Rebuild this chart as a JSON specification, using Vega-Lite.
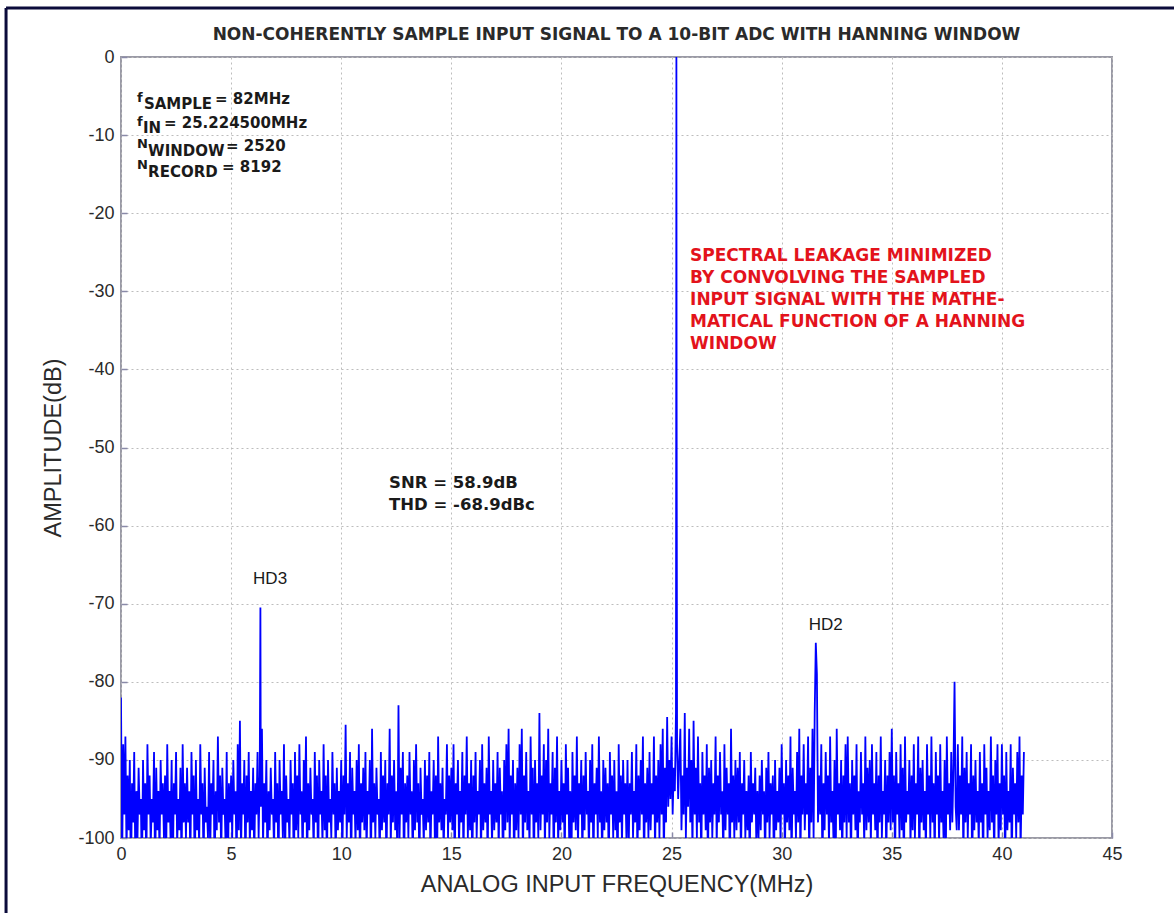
{
  "$schema": "https://vega.github.io/schema/vega-lite/v6.json",
  "width": 991,
  "height": 781,
  "autosize": "none",
  "padding": {"left": 121, "top": 57, "right": 62, "bottom": 75},
  "background": "white",
  "config": {
    "view": {"stroke": "#9a9aa6", "strokeWidth": 2},
    "font": "Liberation Sans"
  },
  "title": {
    "text": "NON-COHERENTLY SAMPLE INPUT SIGNAL TO A 10-BIT ADC WITH HANNING WINDOW",
    "font": "DejaVu Sans",
    "fontSize": 17,
    "fontWeight": "bold",
    "color": "#2a2a2a",
    "offset": -37,
    "anchor": "middle"
  },
  "datasets": {
    "spectrum": [
      {"f":0.00,"a":-82},{"f":0.05,"a":-104},{"f":0.10,"a":-88},{"f":0.15,"a":-97},{"f":0.20,"a":-87},{"f":0.25,"a":-102},{"f":0.30,"a":-92},{"f":0.35,"a":-99},{"f":0.40,"a":-90},{"f":0.45,"a":-106},{"f":0.50,"a":-93},{"f":0.55,"a":-98},{"f":0.60,"a":-89},{"f":0.65,"a":-103},{"f":0.70,"a":-94},{"f":0.75,"a":-100},{"f":0.80,"a":-91},{"f":0.85,"a":-97},{"f":0.90,"a":-95},{"f":0.95,"a":-105},
      {"f":1.00,"a":-90},{"f":1.05,"a":-99},{"f":1.10,"a":-93},{"f":1.15,"a":-104},{"f":1.20,"a":-88},{"f":1.25,"a":-97},{"f":1.30,"a":-92},{"f":1.35,"a":-101},{"f":1.40,"a":-95},{"f":1.45,"a":-98},{"f":1.50,"a":-89},{"f":1.55,"a":-106},{"f":1.60,"a":-91},{"f":1.65,"a":-99},{"f":1.70,"a":-94},{"f":1.75,"a":-102},{"f":1.80,"a":-90},{"f":1.85,"a":-97},{"f":1.90,"a":-93},{"f":1.95,"a":-100},
      {"f":2.00,"a":-92},{"f":2.05,"a":-103},{"f":2.10,"a":-88},{"f":2.15,"a":-98},{"f":2.20,"a":-94},{"f":2.25,"a":-100},{"f":2.30,"a":-90},{"f":2.35,"a":-105},{"f":2.40,"a":-93},{"f":2.45,"a":-97},{"f":2.50,"a":-89},{"f":2.55,"a":-101},{"f":2.60,"a":-95},{"f":2.65,"a":-99},{"f":2.70,"a":-91},{"f":2.75,"a":-104},{"f":2.80,"a":-88},{"f":2.85,"a":-98},{"f":2.90,"a":-93},{"f":2.95,"a":-100},
      {"f":3.00,"a":-91},{"f":3.05,"a":-98},{"f":3.10,"a":-94},{"f":3.15,"a":-103},{"f":3.20,"a":-89},{"f":3.25,"a":-97},{"f":3.30,"a":-92},{"f":3.35,"a":-106},{"f":3.40,"a":-90},{"f":3.45,"a":-99},{"f":3.50,"a":-95},{"f":3.55,"a":-101},{"f":3.60,"a":-88},{"f":3.65,"a":-97},{"f":3.70,"a":-93},{"f":3.75,"a":-104},{"f":3.80,"a":-91},{"f":3.85,"a":-98},{"f":3.90,"a":-96},{"f":3.95,"a":-100},
      {"f":4.00,"a":-89},{"f":4.05,"a":-102},{"f":4.10,"a":-93},{"f":4.15,"a":-97},{"f":4.20,"a":-90},{"f":4.25,"a":-105},{"f":4.30,"a":-94},{"f":4.35,"a":-99},{"f":4.40,"a":-87},{"f":4.45,"a":-98},{"f":4.50,"a":-92},{"f":4.55,"a":-103},{"f":4.60,"a":-91},{"f":4.65,"a":-97},{"f":4.70,"a":-95},{"f":4.75,"a":-101},{"f":4.80,"a":-89},{"f":4.85,"a":-106},{"f":4.90,"a":-93},{"f":4.95,"a":-98},
      {"f":5.00,"a":-92},{"f":5.05,"a":-100},{"f":5.10,"a":-90},{"f":5.15,"a":-97},{"f":5.20,"a":-94},{"f":5.25,"a":-104},{"f":5.30,"a":-88},{"f":5.35,"a":-99},{"f":5.40,"a":-85},{"f":5.45,"a":-102},{"f":5.50,"a":-93},{"f":5.55,"a":-97},{"f":5.60,"a":-90},{"f":5.65,"a":-105},{"f":5.70,"a":-92},{"f":5.75,"a":-98},{"f":5.80,"a":-89},{"f":5.85,"a":-101},{"f":5.90,"a":-94},{"f":5.95,"a":-99},
      {"f":6.00,"a":-91},{"f":6.05,"a":-103},{"f":6.10,"a":-93},{"f":6.15,"a":-97},{"f":6.20,"a":-89},{"f":6.25,"a":-100},{"f":6.30,"a":-92},{"f":6.33,"a":-70.5},{"f":6.35,"a":-96},{"f":6.40,"a":-86},{"f":6.45,"a":-101},{"f":6.50,"a":-93},{"f":6.55,"a":-98},{"f":6.60,"a":-90},{"f":6.65,"a":-104},{"f":6.70,"a":-94},{"f":6.75,"a":-99},{"f":6.80,"a":-91},{"f":6.85,"a":-97},{"f":6.90,"a":-95},{"f":6.95,"a":-102},
      {"f":7.00,"a":-89},{"f":7.05,"a":-98},{"f":7.10,"a":-93},{"f":7.15,"a":-105},{"f":7.20,"a":-90},{"f":7.25,"a":-97},{"f":7.30,"a":-94},{"f":7.35,"a":-100},{"f":7.40,"a":-88},{"f":7.45,"a":-103},{"f":7.50,"a":-92},{"f":7.55,"a":-98},{"f":7.60,"a":-95},{"f":7.65,"a":-101},{"f":7.70,"a":-90},{"f":7.75,"a":-97},{"f":7.80,"a":-93},{"f":7.85,"a":-106},{"f":7.90,"a":-89},{"f":7.95,"a":-99},
      {"f":8.00,"a":-92},{"f":8.05,"a":-100},{"f":8.10,"a":-88},{"f":8.15,"a":-97},{"f":8.20,"a":-94},{"f":8.25,"a":-103},{"f":8.30,"a":-90},{"f":8.35,"a":-98},{"f":8.40,"a":-87},{"f":8.45,"a":-104},{"f":8.50,"a":-93},{"f":8.55,"a":-99},{"f":8.60,"a":-91},{"f":8.65,"a":-97},{"f":8.70,"a":-95},{"f":8.75,"a":-102},{"f":8.80,"a":-89},{"f":8.85,"a":-98},{"f":8.90,"a":-92},{"f":8.95,"a":-105},
      {"f":9.00,"a":-90},{"f":9.05,"a":-97},{"f":9.10,"a":-94},{"f":9.15,"a":-101},{"f":9.20,"a":-88},{"f":9.25,"a":-99},{"f":9.30,"a":-92},{"f":9.35,"a":-104},{"f":9.40,"a":-90},{"f":9.45,"a":-98},{"f":9.50,"a":-95},{"f":9.55,"a":-100},{"f":9.60,"a":-89},{"f":9.65,"a":-97},{"f":9.70,"a":-93},{"f":9.75,"a":-103},{"f":9.80,"a":-91},{"f":9.85,"a":-99},{"f":9.90,"a":-94},{"f":9.95,"a":-98},
      {"f":10.00,"a":-90},{"f":10.05,"a":-103},{"f":10.10,"a":-92},{"f":10.15,"a":-97},{"f":10.20,"a":-85.5},{"f":10.25,"a":-100},{"f":10.30,"a":-93},{"f":10.35,"a":-98},{"f":10.40,"a":-89},{"f":10.45,"a":-105},{"f":10.50,"a":-91},{"f":10.55,"a":-97},{"f":10.60,"a":-94},{"f":10.65,"a":-101},{"f":10.70,"a":-90},{"f":10.75,"a":-99},{"f":10.80,"a":-88},{"f":10.85,"a":-104},{"f":10.90,"a":-93},{"f":10.95,"a":-98},
      {"f":11.00,"a":-91},{"f":11.05,"a":-99},{"f":11.10,"a":-89},{"f":11.15,"a":-102},{"f":11.20,"a":-94},{"f":11.25,"a":-97},{"f":11.30,"a":-90},{"f":11.35,"a":-105},{"f":11.40,"a":-86},{"f":11.45,"a":-98},{"f":11.50,"a":-93},{"f":11.55,"a":-100},{"f":11.60,"a":-91},{"f":11.65,"a":-97},{"f":11.70,"a":-95},{"f":11.75,"a":-103},{"f":11.80,"a":-89},{"f":11.85,"a":-99},{"f":11.90,"a":-92},{"f":11.95,"a":-98},
      {"f":12.00,"a":-90},{"f":12.05,"a":-104},{"f":12.10,"a":-93},{"f":12.15,"a":-97},{"f":12.20,"a":-86},{"f":12.25,"a":-101},{"f":12.30,"a":-92},{"f":12.35,"a":-98},{"f":12.40,"a":-90},{"f":12.45,"a":-99},{"f":12.50,"a":-94},{"f":12.55,"a":-103},{"f":12.60,"a":-83},{"f":12.65,"a":-100},{"f":12.70,"a":-91},{"f":12.75,"a":-97},{"f":12.80,"a":-89},{"f":12.85,"a":-105},{"f":12.90,"a":-93},{"f":12.95,"a":-98},
      {"f":13.00,"a":-92},{"f":13.05,"a":-100},{"f":13.10,"a":-89},{"f":13.15,"a":-97},{"f":13.20,"a":-94},{"f":13.25,"a":-103},{"f":13.30,"a":-90},{"f":13.35,"a":-99},{"f":13.40,"a":-88},{"f":13.45,"a":-98},{"f":13.50,"a":-93},{"f":13.55,"a":-104},{"f":13.60,"a":-91},{"f":13.65,"a":-97},{"f":13.70,"a":-95},{"f":13.75,"a":-101},{"f":13.80,"a":-90},{"f":13.85,"a":-99},{"f":13.90,"a":-92},{"f":13.95,"a":-98},
      {"f":14.00,"a":-89},{"f":14.05,"a":-103},{"f":14.10,"a":-94},{"f":14.15,"a":-97},{"f":14.20,"a":-90},{"f":14.25,"a":-100},{"f":14.30,"a":-92},{"f":14.35,"a":-105},{"f":14.40,"a":-87},{"f":14.45,"a":-98},{"f":14.50,"a":-93},{"f":14.55,"a":-99},{"f":14.60,"a":-91},{"f":14.65,"a":-102},{"f":14.70,"a":-95},{"f":14.75,"a":-97},{"f":14.80,"a":-88},{"f":14.85,"a":-100},{"f":14.90,"a":-92},{"f":14.95,"a":-98},
      {"f":15.00,"a":-91},{"f":15.05,"a":-99},{"f":15.10,"a":-88},{"f":15.15,"a":-104},{"f":15.20,"a":-93},{"f":15.25,"a":-97},{"f":15.30,"a":-90},{"f":15.35,"a":-101},{"f":15.40,"a":-94},{"f":15.45,"a":-98},{"f":15.50,"a":-89},{"f":15.55,"a":-103},{"f":15.60,"a":-92},{"f":15.65,"a":-97},{"f":15.70,"a":-87},{"f":15.75,"a":-100},{"f":15.80,"a":-93},{"f":15.85,"a":-99},{"f":15.90,"a":-90},{"f":15.95,"a":-105},
      {"f":16.00,"a":-92},{"f":16.05,"a":-98},{"f":16.10,"a":-89},{"f":16.15,"a":-100},{"f":16.20,"a":-94},{"f":16.25,"a":-97},{"f":16.30,"a":-90},{"f":16.35,"a":-103},{"f":16.40,"a":-88},{"f":16.45,"a":-99},{"f":16.50,"a":-93},{"f":16.55,"a":-98},{"f":16.60,"a":-91},{"f":16.65,"a":-104},{"f":16.70,"a":-87},{"f":16.75,"a":-97},{"f":16.80,"a":-94},{"f":16.85,"a":-101},{"f":16.90,"a":-90},{"f":16.95,"a":-99},
      {"f":17.00,"a":-93},{"f":17.05,"a":-98},{"f":17.10,"a":-89},{"f":17.15,"a":-102},{"f":17.20,"a":-91},{"f":17.25,"a":-97},{"f":17.30,"a":-94},{"f":17.35,"a":-105},{"f":17.40,"a":-90},{"f":17.45,"a":-99},{"f":17.50,"a":-88},{"f":17.55,"a":-98},{"f":17.60,"a":-86},{"f":17.65,"a":-101},{"f":17.70,"a":-92},{"f":17.75,"a":-97},{"f":17.80,"a":-90},{"f":17.85,"a":-104},{"f":17.90,"a":-93},{"f":17.95,"a":-99},
      {"f":18.00,"a":-91},{"f":18.05,"a":-100},{"f":18.10,"a":-88},{"f":18.15,"a":-97},{"f":18.20,"a":-86},{"f":18.25,"a":-103},{"f":18.30,"a":-92},{"f":18.35,"a":-98},{"f":18.40,"a":-89},{"f":18.45,"a":-99},{"f":18.50,"a":-94},{"f":18.55,"a":-101},{"f":18.60,"a":-87},{"f":18.65,"a":-97},{"f":18.70,"a":-91},{"f":18.75,"a":-105},{"f":18.80,"a":-90},{"f":18.85,"a":-98},{"f":18.90,"a":-93},{"f":18.95,"a":-100},
      {"f":19.00,"a":-84},{"f":19.05,"a":-99},{"f":19.10,"a":-92},{"f":19.15,"a":-97},{"f":19.20,"a":-88},{"f":19.25,"a":-102},{"f":19.30,"a":-90},{"f":19.35,"a":-98},{"f":19.40,"a":-86},{"f":19.45,"a":-100},{"f":19.50,"a":-93},{"f":19.55,"a":-97},{"f":19.60,"a":-89},{"f":19.65,"a":-104},{"f":19.70,"a":-91},{"f":19.75,"a":-98},{"f":19.80,"a":-87},{"f":19.85,"a":-101},{"f":19.90,"a":-94},{"f":19.95,"a":-99},
      {"f":20.00,"a":-90},{"f":20.05,"a":-98},{"f":20.10,"a":-93},{"f":20.15,"a":-103},{"f":20.20,"a":-88},{"f":20.25,"a":-97},{"f":20.30,"a":-91},{"f":20.35,"a":-100},{"f":20.40,"a":-94},{"f":20.45,"a":-105},{"f":20.50,"a":-89},{"f":20.55,"a":-98},{"f":20.60,"a":-92},{"f":20.65,"a":-99},{"f":20.70,"a":-87},{"f":20.75,"a":-101},{"f":20.80,"a":-93},{"f":20.85,"a":-97},{"f":20.90,"a":-90},{"f":20.95,"a":-103},
      {"f":21.00,"a":-92},{"f":21.05,"a":-99},{"f":21.10,"a":-89},{"f":21.15,"a":-97},{"f":21.20,"a":-94},{"f":21.25,"a":-102},{"f":21.30,"a":-90},{"f":21.35,"a":-98},{"f":21.40,"a":-88},{"f":21.45,"a":-104},{"f":21.50,"a":-93},{"f":21.55,"a":-97},{"f":21.60,"a":-91},{"f":21.65,"a":-100},{"f":21.70,"a":-87},{"f":21.75,"a":-98},{"f":21.80,"a":-94},{"f":21.85,"a":-103},{"f":21.90,"a":-90},{"f":21.95,"a":-99},
      {"f":22.00,"a":-91},{"f":22.05,"a":-98},{"f":22.10,"a":-93},{"f":22.15,"a":-104},{"f":22.20,"a":-89},{"f":22.25,"a":-97},{"f":22.30,"a":-92},{"f":22.35,"a":-100},{"f":22.40,"a":-90},{"f":22.45,"a":-99},{"f":22.50,"a":-94},{"f":22.55,"a":-105},{"f":22.60,"a":-88},{"f":22.65,"a":-98},{"f":22.70,"a":-92},{"f":22.75,"a":-101},{"f":22.80,"a":-90},{"f":22.85,"a":-97},{"f":22.90,"a":-93},{"f":22.95,"a":-100},
      {"f":23.00,"a":-90},{"f":23.05,"a":-102},{"f":23.10,"a":-93},{"f":23.15,"a":-97},{"f":23.20,"a":-89},{"f":23.25,"a":-100},{"f":23.30,"a":-94},{"f":23.35,"a":-98},{"f":23.40,"a":-88},{"f":23.45,"a":-103},{"f":23.50,"a":-92},{"f":23.55,"a":-99},{"f":23.60,"a":-90},{"f":23.65,"a":-97},{"f":23.70,"a":-87},{"f":23.75,"a":-104},{"f":23.80,"a":-93},{"f":23.85,"a":-98},{"f":23.90,"a":-91},{"f":23.95,"a":-100},
      {"f":24.00,"a":-89},{"f":24.05,"a":-99},{"f":24.10,"a":-93},{"f":24.15,"a":-97},{"f":24.20,"a":-87},{"f":24.25,"a":-102},{"f":24.30,"a":-92},{"f":24.35,"a":-98},{"f":24.40,"a":-90},{"f":24.45,"a":-100},{"f":24.50,"a":-88},{"f":24.55,"a":-97},{"f":24.60,"a":-86},{"f":24.65,"a":-103},{"f":24.70,"a":-91},{"f":24.75,"a":-98},{"f":24.80,"a":-84.5},{"f":24.85,"a":-96},{"f":24.90,"a":-90},{"f":24.95,"a":-95},
      {"f":25.00,"a":-87},{"f":25.05,"a":-97},{"f":25.10,"a":-91},{"f":25.15,"a":-94},{"f":25.20,"a":-84},{"f":25.21,"a":-50},{"f":25.22,"a":0},{"f":25.23,"a":-45},{"f":25.25,"a":-88},{"f":25.30,"a":-95},{"f":25.35,"a":-90},{"f":25.40,"a":-86},{"f":25.45,"a":-99},{"f":25.50,"a":-92},{"f":25.55,"a":-97},{"f":25.60,"a":-84},{"f":25.65,"a":-100},{"f":25.70,"a":-91},{"f":25.75,"a":-96},{"f":25.80,"a":-86},{"f":25.85,"a":-98},{"f":25.90,"a":-90},{"f":25.95,"a":-102},
      {"f":26.00,"a":-85},{"f":26.05,"a":-97},{"f":26.10,"a":-91},{"f":26.15,"a":-100},{"f":26.20,"a":-87},{"f":26.25,"a":-98},{"f":26.30,"a":-93},{"f":26.35,"a":-103},{"f":26.40,"a":-89},{"f":26.45,"a":-97},{"f":26.50,"a":-92},{"f":26.55,"a":-99},{"f":26.60,"a":-88},{"f":26.65,"a":-104},{"f":26.70,"a":-91},{"f":26.75,"a":-98},{"f":26.80,"a":-90},{"f":26.85,"a":-100},{"f":26.90,"a":-93},{"f":26.95,"a":-97},
      {"f":27.00,"a":-87},{"f":27.05,"a":-101},{"f":27.10,"a":-92},{"f":27.15,"a":-98},{"f":27.20,"a":-89},{"f":27.25,"a":-97},{"f":27.30,"a":-94},{"f":27.35,"a":-103},{"f":27.40,"a":-88},{"f":27.45,"a":-99},{"f":27.50,"a":-91},{"f":27.55,"a":-97},{"f":27.60,"a":-93},{"f":27.65,"a":-105},{"f":27.70,"a":-86},{"f":27.75,"a":-98},{"f":27.80,"a":-92},{"f":27.85,"a":-100},{"f":27.90,"a":-90},{"f":27.95,"a":-99},
      {"f":28.00,"a":-91},{"f":28.05,"a":-98},{"f":28.10,"a":-89},{"f":28.15,"a":-103},{"f":28.20,"a":-93},{"f":28.25,"a":-97},{"f":28.30,"a":-90},{"f":28.35,"a":-100},{"f":28.40,"a":-94},{"f":28.45,"a":-99},{"f":28.50,"a":-92},{"f":28.55,"a":-104},{"f":28.60,"a":-89},{"f":28.65,"a":-98},{"f":28.70,"a":-93},{"f":28.75,"a":-97},{"f":28.80,"a":-91},{"f":28.85,"a":-101},{"f":28.90,"a":-94},{"f":28.95,"a":-100},
      {"f":29.00,"a":-92},{"f":29.05,"a":-99},{"f":29.10,"a":-90},{"f":29.15,"a":-97},{"f":29.20,"a":-94},{"f":29.25,"a":-103},{"f":29.30,"a":-91},{"f":29.35,"a":-98},{"f":29.40,"a":-89},{"f":29.45,"a":-100},{"f":29.50,"a":-93},{"f":29.55,"a":-97},{"f":29.60,"a":-92},{"f":29.65,"a":-105},{"f":29.70,"a":-90},{"f":29.75,"a":-99},{"f":29.80,"a":-94},{"f":29.85,"a":-98},{"f":29.90,"a":-91},{"f":29.95,"a":-101},
      {"f":30.00,"a":-88},{"f":30.05,"a":-97},{"f":30.10,"a":-93},{"f":30.15,"a":-102},{"f":30.20,"a":-90},{"f":30.25,"a":-98},{"f":30.30,"a":-92},{"f":30.35,"a":-99},{"f":30.40,"a":-87},{"f":30.45,"a":-104},{"f":30.50,"a":-91},{"f":30.55,"a":-97},{"f":30.60,"a":-94},{"f":30.65,"a":-100},{"f":30.70,"a":-89},{"f":30.75,"a":-98},{"f":30.80,"a":-86},{"f":30.85,"a":-103},{"f":30.90,"a":-92},{"f":30.95,"a":-97},
      {"f":31.00,"a":-88},{"f":31.05,"a":-99},{"f":31.10,"a":-93},{"f":31.15,"a":-97},{"f":31.20,"a":-87},{"f":31.25,"a":-103},{"f":31.30,"a":-91},{"f":31.35,"a":-98},{"f":31.40,"a":-86},{"f":31.45,"a":-100},{"f":31.50,"a":-84},{"f":31.55,"a":-75},{"f":31.60,"a":-79},{"f":31.65,"a":-98},{"f":31.70,"a":-92},{"f":31.75,"a":-97},{"f":31.80,"a":-88},{"f":31.85,"a":-104},{"f":31.90,"a":-93},{"f":31.95,"a":-99},
      {"f":32.00,"a":-89},{"f":32.05,"a":-97},{"f":32.10,"a":-92},{"f":32.15,"a":-101},{"f":32.20,"a":-87},{"f":32.25,"a":-98},{"f":32.30,"a":-94},{"f":32.35,"a":-100},{"f":32.40,"a":-90},{"f":32.45,"a":-105},{"f":32.50,"a":-86},{"f":32.55,"a":-97},{"f":32.60,"a":-93},{"f":32.65,"a":-99},{"f":32.70,"a":-90},{"f":32.75,"a":-103},{"f":32.80,"a":-92},{"f":32.85,"a":-98},{"f":32.90,"a":-88},{"f":32.95,"a":-100},
      {"f":33.00,"a":-87},{"f":33.05,"a":-98},{"f":33.10,"a":-93},{"f":33.15,"a":-103},{"f":33.20,"a":-90},{"f":33.25,"a":-97},{"f":33.30,"a":-92},{"f":33.35,"a":-99},{"f":33.40,"a":-88},{"f":33.45,"a":-104},{"f":33.50,"a":-94},{"f":33.55,"a":-98},{"f":33.60,"a":-89},{"f":33.65,"a":-97},{"f":33.70,"a":-93},{"f":33.75,"a":-101},{"f":33.80,"a":-87},{"f":33.85,"a":-99},{"f":33.90,"a":-91},{"f":33.95,"a":-98},
      {"f":34.00,"a":-90},{"f":34.05,"a":-101},{"f":34.10,"a":-88},{"f":34.15,"a":-97},{"f":34.20,"a":-93},{"f":34.25,"a":-99},{"f":34.30,"a":-89},{"f":34.35,"a":-104},{"f":34.40,"a":-92},{"f":34.45,"a":-98},{"f":34.50,"a":-87},{"f":34.55,"a":-100},{"f":34.60,"a":-94},{"f":34.65,"a":-97},{"f":34.70,"a":-90},{"f":34.75,"a":-103},{"f":34.80,"a":-92},{"f":34.85,"a":-98},{"f":34.90,"a":-89},{"f":34.95,"a":-99},
      {"f":35.00,"a":-86},{"f":35.05,"a":-98},{"f":35.10,"a":-92},{"f":35.15,"a":-103},{"f":35.20,"a":-89},{"f":35.25,"a":-97},{"f":35.30,"a":-93},{"f":35.35,"a":-100},{"f":35.40,"a":-88},{"f":35.45,"a":-99},{"f":35.50,"a":-91},{"f":35.55,"a":-105},{"f":35.60,"a":-87},{"f":35.65,"a":-98},{"f":35.70,"a":-94},{"f":35.75,"a":-97},{"f":35.80,"a":-90},{"f":35.85,"a":-101},{"f":35.90,"a":-92},{"f":35.95,"a":-99},
      {"f":36.00,"a":-88},{"f":36.05,"a":-100},{"f":36.10,"a":-93},{"f":36.15,"a":-97},{"f":36.20,"a":-87},{"f":36.25,"a":-104},{"f":36.30,"a":-91},{"f":36.35,"a":-98},{"f":36.40,"a":-90},{"f":36.45,"a":-99},{"f":36.50,"a":-94},{"f":36.55,"a":-102},{"f":36.60,"a":-88},{"f":36.65,"a":-97},{"f":36.70,"a":-92},{"f":36.75,"a":-100},{"f":36.80,"a":-87},{"f":36.85,"a":-98},{"f":36.90,"a":-93},{"f":36.95,"a":-103},
      {"f":37.00,"a":-89},{"f":37.05,"a":-97},{"f":37.10,"a":-92},{"f":37.15,"a":-101},{"f":37.20,"a":-88},{"f":37.25,"a":-98},{"f":37.30,"a":-94},{"f":37.35,"a":-100},{"f":37.40,"a":-90},{"f":37.45,"a":-104},{"f":37.50,"a":-87},{"f":37.55,"a":-97},{"f":37.60,"a":-93},{"f":37.65,"a":-99},{"f":37.70,"a":-89},{"f":37.75,"a":-98},{"f":37.80,"a":-91},{"f":37.85,"a":-80},{"f":37.90,"a":-96},{"f":37.95,"a":-99},
      {"f":38.00,"a":-88},{"f":38.05,"a":-99},{"f":38.10,"a":-92},{"f":38.15,"a":-97},{"f":38.20,"a":-87},{"f":38.25,"a":-103},{"f":38.30,"a":-91},{"f":38.35,"a":-98},{"f":38.40,"a":-89},{"f":38.45,"a":-100},{"f":38.50,"a":-93},{"f":38.55,"a":-97},{"f":38.60,"a":-88},{"f":38.65,"a":-105},{"f":38.70,"a":-92},{"f":38.75,"a":-99},{"f":38.80,"a":-90},{"f":38.85,"a":-98},{"f":38.90,"a":-94},{"f":38.95,"a":-101},
      {"f":39.00,"a":-89},{"f":39.05,"a":-98},{"f":39.10,"a":-93},{"f":39.15,"a":-104},{"f":39.20,"a":-88},{"f":39.25,"a":-97},{"f":39.30,"a":-91},{"f":39.35,"a":-100},{"f":39.40,"a":-94},{"f":39.45,"a":-99},{"f":39.50,"a":-87},{"f":39.55,"a":-98},{"f":39.60,"a":-92},{"f":39.65,"a":-103},{"f":39.70,"a":-90},{"f":39.75,"a":-97},{"f":39.80,"a":-88},{"f":39.85,"a":-101},{"f":39.90,"a":-93},{"f":39.95,"a":-99},
      {"f":40.00,"a":-88},{"f":40.05,"a":-97},{"f":40.10,"a":-92},{"f":40.15,"a":-103},{"f":40.20,"a":-89},{"f":40.25,"a":-99},{"f":40.30,"a":-94},{"f":40.35,"a":-98},{"f":40.40,"a":-88},{"f":40.45,"a":-104},{"f":40.50,"a":-91},{"f":40.55,"a":-97},{"f":40.60,"a":-93},{"f":40.65,"a":-100},{"f":40.70,"a":-89},{"f":40.75,"a":-98},{"f":40.80,"a":-87},{"f":40.85,"a":-102},{"f":40.90,"a":-92},{"f":40.95,"a":-97},
      {"f":41.00,"a":-89}
    ],
    "params": [
      {"x":0.73,"y":-5.2,"label":"f","kind":"main"},
      {"x":1.04,"y":-6.0,"label":"SAMPLE","kind":"sub"},
      {"x":4.27,"y":-5.4,"label":"= 82MHz","kind":"val"},
      {"x":0.73,"y":-8.3,"label":"f","kind":"main"},
      {"x":1.0,"y":-9.1,"label":"IN","kind":"sub"},
      {"x":1.95,"y":-8.45,"label":"= 25.224500MHz","kind":"val"},
      {"x":0.73,"y":-11.2,"label":"N","kind":"main"},
      {"x":1.23,"y":-12.0,"label":"WINDOW","kind":"sub"},
      {"x":4.77,"y":-11.4,"label":"= 2520","kind":"val"},
      {"x":0.73,"y":-13.8,"label":"N","kind":"main"},
      {"x":1.23,"y":-14.7,"label":"RECORD","kind":"sub"},
      {"x":4.59,"y":-14.1,"label":"= 8192","kind":"val"},
      {"x":12.17,"y":-54.5,"label":"SNR = 58.9dB","kind":"snr"},
      {"x":12.17,"y":-57.3,"label":"THD = -68.9dBc","kind":"snr"}
    ],
    "note": [
      {"x":25.84,"y":-24.4,"label":"SPECTRAL LEAKAGE MINIMIZED\nBY CONVOLVING THE SAMPLED\nINPUT SIGNAL WITH THE MATHE-\nMATICAL FUNCTION OF A HANNING\nWINDOW"}
    ],
    "harmonics": [
      {"x":6.77,"y":-66.8,"label":"HD3"},
      {"x":32.0,"y":-72.7,"label":"HD2"}
    ],
    "frame": [{"x":-5.22,"x2":48,"y":6.27,"y2":-110}]
  },
  "layer": [
    {
      "data": {"name": "spectrum"},
      "mark": {"type": "line", "color": "#0000ff", "strokeWidth": 1.8, "clip": true, "interpolate": "linear"},
      "encoding": {
        "x": {
          "field": "f", "type": "quantitative",
          "scale": {"domain": [0, 45], "nice": false, "zero": false},
          "axis": {
            "title": "ANALOG INPUT FREQUENCY(MHz)",
            "values": [0, 5, 10, 15, 20, 25, 30, 35, 40, 45],
            "grid": true, "gridColor": "#bdbdbd", "gridDash": [2, 3], "gridWidth": 1,
            "domain": false, "ticks": true, "tickSize": -6, "tickColor": "#8a8aa8", "tickWidth": 1.5,
            "labelFontSize": 18, "labelColor": "#2a2a2a", "labelPadding": 13, "labelFlush": false,
            "titleFontSize": 23.5, "titleFontWeight": "normal", "titleColor": "#2a2a2a", "titlePadding": 9,
            "titleFont": "Liberation Sans", "labelFont": "Liberation Sans"
          }
        },
        "y": {
          "field": "a", "type": "quantitative",
          "scale": {"domain": [-100, 0], "nice": false, "zero": false},
          "axis": {
            "title": "AMPLITUDE(dB)",
            "values": [-100, -90, -80, -70, -60, -50, -40, -30, -20, -10, 0],
            "labelExpr": "datum.value < 0 ? '-' + abs(datum.value) : '' + datum.value",
            "grid": true, "gridColor": "#bdbdbd", "gridDash": [2, 3], "gridWidth": 1,
            "domain": false, "ticks": true, "tickSize": -6, "tickColor": "#8a8aa8", "tickWidth": 1.5,
            "labelFontSize": 18, "labelColor": "#2a2a2a", "labelPadding": 13, "labelFlush": false,
            "titleFontSize": 23.5, "titleFontWeight": "normal", "titleColor": "#2a2a2a", "titlePadding": 12,
            "titleFont": "Liberation Sans", "labelFont": "Liberation Sans"
          }
        }
      }
    },
    {
      "data": {"name": "params"},
      "transform": [{"filter": "datum.kind === 'main'"}],
      "mark": {"type": "text", "align": "left", "baseline": "middle", "font": "DejaVu Sans", "fontWeight": "bold", "fontSize": 13, "color": "#1a1a1a"},
      "encoding": {
        "x": {"field": "x", "type": "quantitative"},
        "y": {"field": "y", "type": "quantitative"},
        "text": {"field": "label"}
      }
    },
    {
      "data": {"name": "params"},
      "transform": [{"filter": "datum.kind === 'sub' || datum.kind === 'val'"}],
      "mark": {"type": "text", "align": "left", "baseline": "middle", "font": "DejaVu Sans", "fontWeight": "bold", "fontSize": 15, "color": "#1a1a1a"},
      "encoding": {
        "x": {"field": "x", "type": "quantitative"},
        "y": {"field": "y", "type": "quantitative"},
        "text": {"field": "label"}
      }
    },
    {
      "data": {"name": "params"},
      "transform": [{"filter": "datum.kind === 'snr'"}],
      "mark": {"type": "text", "align": "left", "baseline": "middle", "font": "DejaVu Sans", "fontWeight": "bold", "fontSize": 16.5, "color": "#1a1a1a"},
      "encoding": {
        "x": {"field": "x", "type": "quantitative"},
        "y": {"field": "y", "type": "quantitative"},
        "text": {"field": "label"}
      }
    },
    {
      "data": {"name": "note"},
      "mark": {"type": "text", "align": "left", "baseline": "top", "font": "DejaVu Sans", "fontWeight": "bold", "fontSize": 17, "color": "#e3131b", "lineBreak": "\n", "lineHeight": 22},
      "encoding": {
        "x": {"field": "x", "type": "quantitative"},
        "y": {"field": "y", "type": "quantitative"},
        "text": {"field": "label"}
      }
    },
    {
      "data": {"name": "harmonics"},
      "mark": {"type": "text", "align": "center", "baseline": "middle", "font": "Liberation Sans", "fontSize": 17, "color": "#1a1a1a"},
      "encoding": {
        "x": {"field": "x", "type": "quantitative"},
        "y": {"field": "y", "type": "quantitative"},
        "text": {"field": "label"}
      }
    },
    {
      "data": {"name": "frame"},
      "mark": {"type": "rule", "color": "#0b0b3b", "strokeWidth": 3, "clip": false},
      "encoding": {
        "x": {"field": "x", "type": "quantitative"},
        "x2": {"field": "x2"},
        "y": {"field": "y", "type": "quantitative"}
      }
    },
    {
      "data": {"name": "frame"},
      "mark": {"type": "rule", "color": "#0b0b3b", "strokeWidth": 3, "clip": false},
      "encoding": {
        "x": {"field": "x", "type": "quantitative"},
        "y": {"field": "y", "type": "quantitative"},
        "y2": {"field": "y2"}
      }
    }
  ]
}
